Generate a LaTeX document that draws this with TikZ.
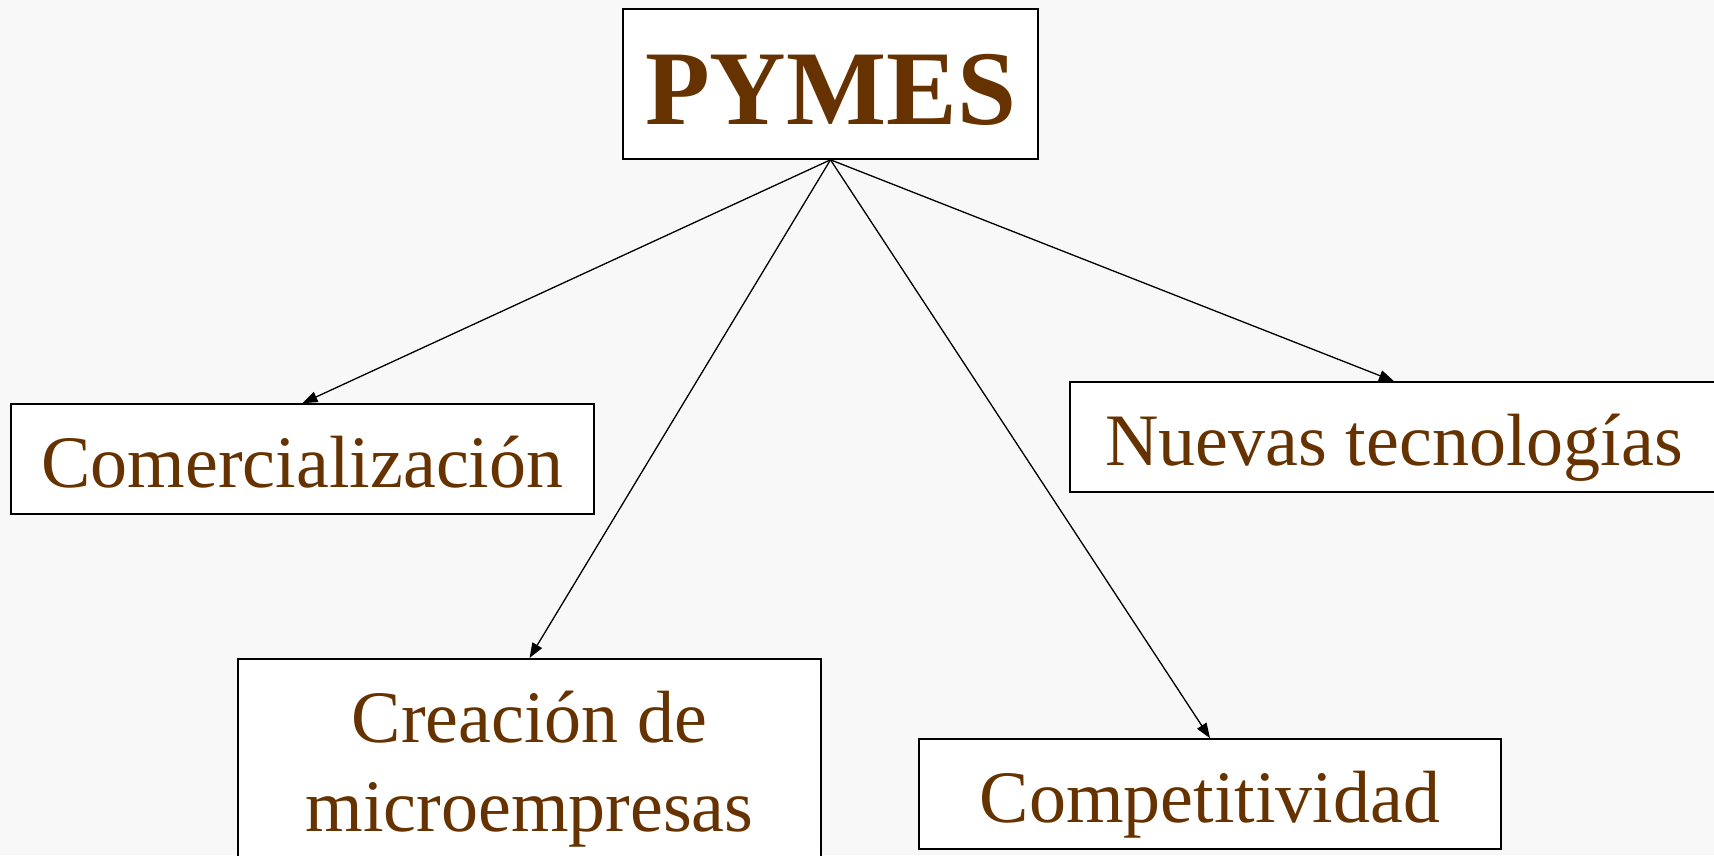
\documentclass[tikz,border=0pt]{standalone}
\usepackage{fontspec}
\setmainfont{Liberation Serif}
\usetikzlibrary{arrows.meta}

\definecolor{pagegray}{HTML}{F8F8F8}
\definecolor{pymesbrown}{HTML}{663300}

\tikzset{
    topicbox/.style={draw=black, line width=1.6pt, fill=white, inner sep=0pt,
        text=pymesbrown, align=center, text height=56pt, text depth=0pt,
        font=\fontsize{74}{89}\selectfont},
    linkarrow/.style={-{Triangle[length=15pt,width=11pt]}, line width=1.3pt}
}

\begin{document}
\begin{tikzpicture}[x=1pt, y=-1pt]
    % Page background, also fixes the margins
    \fill[pagegray] (0,0) rectangle (1714,855);
    \useasboundingbox (0,0) rectangle (1714,855);
    \clip (0,0) rectangle (1714,855);

    % Main box
    \node[topicbox, minimum width=415pt, minimum height=150pt, text height=80pt,
        font=\bfseries\fontsize{106}{106}\selectfont] (pymes) at (830.5,84) {PYMES};

    % The four topics
    \node[topicbox, minimum width=583pt, minimum height=110pt] (comercial) at (302.5,459) {Comercialización};
    \node[topicbox, minimum width=583pt, anchor=north, text height=173pt, text depth=60pt] (creacion) at (529.5,658) {Creación de\\microempresas};
    \node[topicbox, minimum width=582pt, minimum height=110pt] (compet) at (1210,794) {Competitividad};
    \node[topicbox, minimum width=648pt, minimum height=110pt] (nuevas) at (1394,437) {Nuevas tecnologías};

    % Arrows from the main box
    \draw[linkarrow] (pymes.south) -- (comercial.north);
    \draw[linkarrow] (pymes.south) -- (creacion.north);
    \draw[linkarrow] (pymes.south) -- (compet.north);
    \draw[linkarrow] (pymes.south) -- (nuevas.north);
\end{tikzpicture}
\end{document}
